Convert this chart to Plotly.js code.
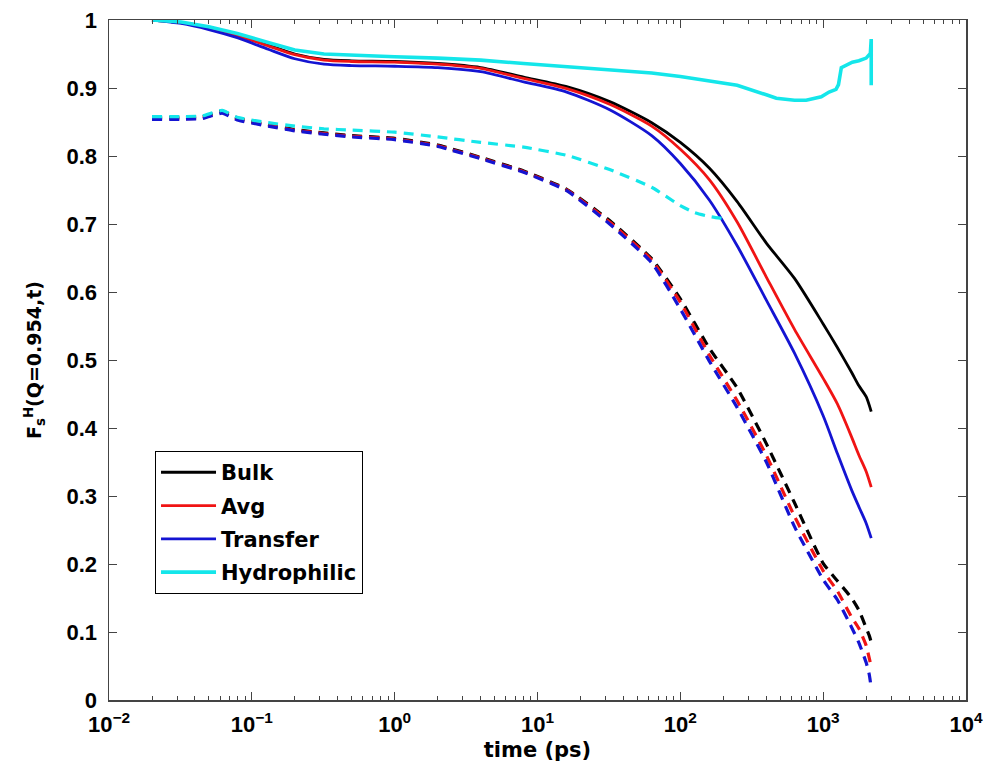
<!DOCTYPE html>
<html>
<head>
<meta charset="utf-8">
<script src="https://cdn.plot.ly/plotly-3.0.1.min.js"></script>
<style>
  html, body { margin: 0; padding: 0; background: #fff; }
  #chart { width: 989px; height: 769px; }
</style>
</head>
<body>
<div id="chart"></div>
<script>
// ---------------- data (time in ps, F_s^H values) ----------------
const seriesNames = ['Bulk', 'Avg', 'Transfer', 'Hydrophilic'];

// solid curves (Q = 0.954) for Bulk, Avg, Transfer
const tSolid = [0.02, 0.032, 0.05, 0.079, 0.13, 0.2, 0.32, 0.5, 1, 2, 4, 8, 16, 32, 63, 100, 160, 250, 400, 630, 1000, 1260, 1580, 1780, 2000, 2170];
const bulkSolid     = [1.000, 0.996, 0.988, 0.978, 0.963, 0.950, 0.942, 0.940, 0.939, 0.936, 0.930, 0.916, 0.902, 0.880, 0.849, 0.820, 0.782, 0.733, 0.672, 0.620, 0.553, 0.518, 0.482, 0.462, 0.446, 0.424];
const avgSolid      = [1.000, 0.996, 0.988, 0.977, 0.962, 0.949, 0.941, 0.939, 0.938, 0.935, 0.929, 0.914, 0.899, 0.876, 0.844, 0.810, 0.765, 0.703, 0.622, 0.545, 0.473, 0.435, 0.387, 0.360, 0.336, 0.313];
const transferSolid = [1.000, 0.995, 0.986, 0.974, 0.957, 0.943, 0.935, 0.933, 0.932, 0.930, 0.924, 0.909, 0.894, 0.868, 0.830, 0.789, 0.735, 0.668, 0.588, 0.510, 0.418, 0.362, 0.309, 0.284, 0.260, 0.238];

// solid Hydrophilic curve
const tHydroSolid = [0.02, 0.032, 0.05, 0.079, 0.13, 0.2, 0.32, 0.5, 1, 2, 4, 8, 16, 32, 63, 100, 160, 250, 400, 470, 630, 760, 970, 1100, 1230, 1280, 1340, 1450, 1600, 1780, 2000, 2140, 2170, 2170];
const hydroSolid  = [1.000, 0.997, 0.990, 0.980, 0.967, 0.956, 0.950, 0.948, 0.946, 0.944, 0.941, 0.936, 0.931, 0.927, 0.922, 0.917, 0.911, 0.904, 0.890, 0.885, 0.882, 0.882, 0.887, 0.894, 0.898, 0.905, 0.930, 0.934, 0.938, 0.940, 0.944, 0.951, 0.972, 0.904];

// dashed curves for Bulk, Avg, Transfer
const tDash = [0.02, 0.032, 0.045, 0.062, 0.079, 0.13, 0.2, 0.32, 0.5, 1, 2, 4, 8, 16, 32, 63, 100, 160, 250, 400, 630, 1000, 1260, 1580, 1780, 2000, 2100, 2170];
const bulkDash     = [0.857, 0.857, 0.858, 0.866, 0.856, 0.846, 0.839, 0.834, 0.830, 0.826, 0.816, 0.798, 0.778, 0.751, 0.705, 0.649, 0.590, 0.517, 0.459, 0.377, 0.290, 0.201, 0.175, 0.150, 0.132, 0.106, 0.095, 0.085];
const avgDash      = [0.855, 0.855, 0.856, 0.864, 0.854, 0.845, 0.838, 0.833, 0.829, 0.825, 0.815, 0.797, 0.777, 0.750, 0.703, 0.647, 0.585, 0.507, 0.440, 0.360, 0.270, 0.190, 0.160, 0.122, 0.105, 0.080, 0.062, 0.049];
const transferDash = [0.854, 0.854, 0.855, 0.863, 0.853, 0.844, 0.837, 0.832, 0.828, 0.824, 0.814, 0.796, 0.776, 0.749, 0.700, 0.643, 0.575, 0.498, 0.430, 0.350, 0.255, 0.177, 0.147, 0.107, 0.084, 0.055, 0.038, 0.018];

// dashed Hydrophilic curve
const tHydroDash = [0.02, 0.032, 0.045, 0.062, 0.079, 0.13, 0.2, 0.32, 0.5, 1, 2, 4, 8, 16, 32, 63, 100, 125, 160, 197];
const hydroDash  = [0.858, 0.858, 0.859, 0.867, 0.857, 0.849, 0.844, 0.840, 0.838, 0.835, 0.828, 0.820, 0.813, 0.801, 0.780, 0.754, 0.727, 0.717, 0.711, 0.708];

// axis ticks
const xTickVals = [0.01, 0.1, 1, 10, 100, 1000, 10000];
const xTickText = ['10<sup>−2</sup>', '10<sup>−1</sup>', '10<sup>0</sup>', '10<sup>1</sup>', '10<sup>2</sup>', '10<sup>3</sup>', '10<sup>4</sup>'];
const yTickVals = [0, 0.1, 0.2, 0.3, 0.4, 0.5, 0.6, 0.7, 0.8, 0.9, 1];
const yTickText = ['0', '0.1', '0.2', '0.3', '0.4', '0.5', '0.6', '0.7', '0.8', '0.9', '1'];

// ---------------- styling ----------------
const colors = { Bulk: '#000000', Avg: '#f01414', Transfer: '#1414d2', Hydrophilic: '#14e6ea' };
const dashPattern = '10px,7px';

const minorTicks = [];
for (let e = -2; e < 4; e++) {
  for (let m = 2; m <= 9; m++) minorTicks.push(m * Math.pow(10, e));
}

function solid(name, x, y, w, shape) {
  return { x: x, y: y, name: name, legendgroup: name, type: 'scatter', mode: 'lines',
           line: { color: colors[name], width: w, shape: shape || 'spline', smoothing: 0.7 } };
}
function dashed(name, x, y) {
  return { x: x, y: y, name: name, legendgroup: name, showlegend: false, type: 'scatter', mode: 'lines',
           line: { color: colors[name], width: 3.2, dash: dashPattern, shape: 'spline', smoothing: 0.5 } };
}

const traces = [
  solid('Bulk', tSolid, bulkSolid, 2.8),
  dashed('Bulk', tDash, bulkDash),
  solid('Avg', tSolid, avgSolid, 2.8),
  dashed('Avg', tDash, avgDash),
  solid('Transfer', tSolid, transferSolid, 2.8),
  dashed('Transfer', tDash, transferDash),
  solid('Hydrophilic', tHydroSolid, hydroSolid, 3.6, 'linear'),
  dashed('Hydrophilic', tHydroDash, hydroDash)
];

const tickFont = { family: 'Liberation Sans, Arial, sans-serif', size: 22, color: '#000', weight: 'bold' };
const titleFont = { family: 'DejaVu Sans, sans-serif', size: 21, color: '#000', weight: 'bold' };
const axisColor = '#444';

const layout = {
  width: 989, height: 769,
  margin: { l: 109, r: 23, t: 20, b: 69, pad: 0 },
  paper_bgcolor: '#fff', plot_bgcolor: '#fff',
  showlegend: true,
  xaxis: {
    type: 'log', range: [-2, 4], autorange: false,
    tickmode: 'array', tickvals: xTickVals, ticktext: xTickText,
    ticks: 'inside', ticklen: 8, tickwidth: 1, tickcolor: axisColor,
    showline: true, linecolor: axisColor, linewidth: 1.5, mirror: 'ticks',
    showgrid: false, zeroline: false,
    tickfont: tickFont, ticklabelstandoff: 4,
    title: { text: 'time (ps)', font: titleFont, standoff: 6 }
  },
  xaxis2: {
    type: 'log', range: [-2, 4], autorange: false, overlaying: 'x', side: 'bottom',
    tickmode: 'array', tickvals: minorTicks, showticklabels: false,
    ticks: 'inside', ticklen: 4, tickwidth: 1, tickcolor: axisColor,
    showline: false, mirror: 'ticks', showgrid: false, zeroline: false
  },
  yaxis: {
    range: [0, 1], autorange: false,
    tickmode: 'array', tickvals: yTickVals, ticktext: yTickText,
    ticks: 'inside', ticklen: 8, tickwidth: 1, tickcolor: axisColor,
    showline: true, linecolor: axisColor, linewidth: 1.5, mirror: 'ticks',
    showgrid: false, zeroline: false,
    tickfont: tickFont, ticklabelstandoff: 6,
    title: { text: 'F<sub>s</sub><sup>H</sup>(Q=0.954,t)', font: { family: 'DejaVu Sans, sans-serif', size: 19, color: '#000', weight: 'bold' }, standoff: 20 }
  },
  legend: {
    x: 0.0537, y: 0.366, xanchor: 'left', yanchor: 'top',
    bgcolor: '#fff', bordercolor: '#000', borderwidth: 1,
    font: { family: 'DejaVu Sans, sans-serif', size: 21, color: '#000', weight: 'bold' },
    tracegroupgap: 3, itemwidth: 55, traceorder: 'grouped'
  }
};

// dummy trace to activate the minor-tick overlay axis
traces.push({ x: [0.02], y: [0.5], xaxis: 'x2', yaxis: 'y', type: 'scatter', mode: 'none', showlegend: false, hoverinfo: 'skip' });

Plotly.newPlot('chart', traces, layout, { displayModeBar: false, staticPlot: true });
</script>
</body>
</html>
